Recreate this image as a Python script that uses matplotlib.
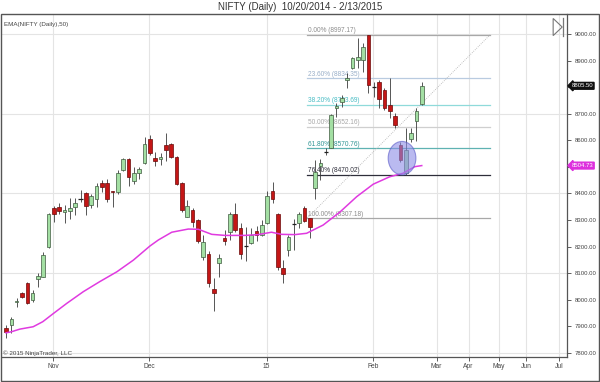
import matplotlib.pyplot as plt
import numpy as np
from matplotlib.patches import Ellipse, Rectangle, Polygon

plt.rcParams['font.family'] = ['Liberation Sans', 'DejaVu Sans']

# OHLC, one row per trading day, 10/20/2014 .. 2/13/2015
opens = [7892, 7904, 7990, 8025, 8062, 7998, 8077, 8085, 8198, 8345,
         8349, 8330, 8334, 8349, 8379, 8402, 8357, 8379, 8440, 8440,
         8408, 8406, 8489, 8530, 8447, 8477, 8515, 8605, 8534, 8530,
         8583, 8586, 8537, 8440, 8311, 8338, 8300, 8160, 8172, 8040,
         8138, 8232, 8254, 8322, 8269, 8203, 8213, 8258, 8243, 8288,
         8409, 8322, 8119, 8187, 8283, 8288, 8345, 8307, 8421, 8504,
         8555, 8571, 8722, 8745, 8828, 8873, 8903, 8903, 8997, 8801,
         8820, 8790, 8734, 8692, 8583, 8477, 8605, 8673, 8737]
highs = [7904, 7934, 8006, 8028, 8066, 8036, 8100, 8179, 8326, 8353,
         8364, 8357, 8383, 8383, 8413, 8406, 8398, 8440, 8451, 8455,
         8410, 8489, 8534, 8534, 8500, 8500, 8613, 8620, 8556, 8553,
         8628, 8590, 8541, 8443, 8375, 8345, 8303, 8243, 8183, 8081,
         8172, 8262, 8330, 8364, 8288, 8273, 8269, 8277, 8300, 8409,
         8443, 8326, 8149, 8243, 8303, 8330, 8353, 8307, 8526, 8530,
         8571, 8700, 8741, 8771, 8854, 8914, 8986, 8967, 8997, 8820,
         8828, 8798, 8835, 8703, 8594, 8647, 8647, 8722, 8820]
lows = [7855, 7874, 7972, 8006, 7983, 7990, 8047, 8085, 8194, 8292,
        8322, 8288, 8303, 8319, 8368, 8319, 8345, 8349, 8406, 8368,
        8349, 8398, 8485, 8428, 8436, 8455, 8511, 8545, 8504, 8508,
        8522, 8534, 8432, 8330, 8311, 8273, 8213, 8149, 8047, 7957,
        8085, 8205, 8224, 8254, 8153, 8145, 8209, 8220, 8239, 8285,
        8364, 8111, 8062, 8164, 8187, 8269, 8292, 8232, 8379, 8451,
        8545, 8571, 8688, 8726, 8798, 8869, 8873, 8858, 8779, 8764,
        8722, 8715, 8685, 8647, 8519, 8469, 8594, 8598, 8734]
closes = [7878, 7926, 7994, 8010, 7987, 8025, 8089, 8168, 8322, 8322,
          8334, 8338, 8345, 8364, 8381, 8353, 8391, 8428, 8425, 8379,
          8404, 8477, 8530, 8462, 8477, 8492, 8586, 8553, 8522, 8538,
          8564, 8537, 8436, 8338, 8353, 8292, 8220, 8217, 8062, 8025,
          8156, 8220, 8322, 8262, 8172, 8200, 8243, 8243, 8281, 8391,
          8379, 8123, 8096, 8236, 8286, 8322, 8296, 8273, 8481, 8515,
          8557, 8696, 8730, 8760, 8835, 8911, 8914, 8952, 8809, 8801,
          8756, 8722, 8711, 8658, 8526, 8564, 8628, 8711, 8805.5]

# EMA(50)
ema_idx = [0, 1, 2.6, 5.1, 6.9, 8.9, 11.4, 14.5, 17.6, 20.8, 23.9, 27.0,
           28.6, 31.1, 34.2, 36.1, 38.6, 41.1, 44.8, 47.3, 49.8, 51.7,
           54.2, 56.4, 59.5, 62.7, 65.8, 68.9, 72.0, 74.5, 76.7, 78]
ema_val = [7875, 7879, 7889, 7898, 7917, 7948, 7986, 8030, 8068, 8105,
           8149, 8202, 8225, 8254, 8266, 8265, 8246, 8242, 8242, 8245,
           8254, 8246, 8245, 8250, 8281, 8331, 8388, 8435, 8463, 8476,
           8501, 8505]

fib_pcts = ['0.00%', '23.60%', '38.20%', '50.00%', '61.80%', '76.40%', '100.00%']
fib_levels = [8997.17, 8834.35, 8733.69, 8652.16, 8570.76, 8470.02, 8307.18]
fib_colors = ['#a8a8a8', '#b9cbe0', '#8fdada', '#cfcfcf', '#5fb2b2', '#2e2e3a', '#a8a8a8']
fib_text = ['#8c8c8c', '#98aec8', '#48bcc4', '#a8a8a8', '#2f9494', '#2e2e3a', '#8c8c8c']

month_pos = [8.82, 26.9, 48.9, 68.8, 80.8, 86.8, 92.5, 97.6, 103.7]
month_lab = ['Nov', 'Dec', '15', 'Feb', 'Mar', 'Apr', 'May', 'Jun', 'Jul']
price_ticks = np.arange(7800, 9001, 100)

fig = plt.figure(figsize=(6, 3.82), dpi=100)
ax = fig.add_axes([2 / 600, 25 / 382, 565 / 600, 343 / 382])
ax.set_xlim(-0.75, 105.25)
ax.set_ylim(7784, 9076)

for p in [7800, 8100, 8400, 8700, 9000]:
    ax.axhline(p, color='#e4e4e4', lw=0.8, zorder=0)
for m in month_pos:
    ax.axvline(m, color='#e4e4e4', lw=0.8, zorder=0)

# fibonacci retracement
x0f, x1f = 56.5, 90.8
for pct, lev, c, tc in zip(fib_pcts, fib_levels, fib_colors, fib_text):
    ax.plot([x0f, x1f], [lev, lev], color=c, lw=0.9, zorder=1)
    ax.text(x0f + 0.2, lev + 2, '%s (%.2f)' % (pct, lev), color=tc, fontsize=4.7,
            va='bottom', ha='left', zorder=1)
ax.plot([x0f, x1f], [fib_levels[-1], fib_levels[0]], color='#b0b0b0', lw=0.6,
        ls=(0, (1, 1.5)), zorder=1)

# candles
for i, (o, h, l, c) in enumerate(zip(opens, highs, lows, closes)):
    ax.vlines(i, l, h, color='#3a3a3a', lw=0.6, zorder=2)
    up = c >= o
    if abs(c - o) < 4:
        ax.hlines((o + c) / 2, i - 0.4, i + 0.4, color='#202020', lw=0.9, zorder=3)
        continue
    ax.bar(i, abs(c - o), bottom=min(o, c), width=0.68,
           color='#a3dfa3' if up else '#c41616',
           edgecolor='#3f5a3f' if up else '#6a0a0a', lw=0.5, zorder=3)

ax.plot(ema_idx, ema_val, color='#e03ae0', lw=1.1, zorder=4)

ax.add_patch(Ellipse((74.3, 8533), 5.2, 126, fc='#8c8ce6', ec='#5a5ac8',
                     alpha=0.6, lw=0.8, zorder=5))

for s in ['top', 'left']:
    ax.spines[s].set_visible(False)
for s in ['bottom', 'right']:
    ax.spines[s].set_color('#555555')
    ax.spines[s].set_linewidth(0.9)

# labels under the price tags are hidden, as in the reference
ylabels = ['%.2f' % p for p in price_ticks]
ylabels[list(price_ticks).index(8800)] = ''
ylabels[list(price_ticks).index(8500)] = ''
ax.yaxis.tick_right()
ax.set_yticks(price_ticks)
ax.set_yticklabels(ylabels)
ax.set_xticks(month_pos)
ax.set_xticklabels(month_lab)
ax.tick_params(axis='both', labelsize=4.3, colors='#444444', length=3, width=0.6,
               pad=1.5, direction='out')
ax.tick_params(axis='x', labelsize=4.8)
ax.tick_params(axis='y', pad=2.5)

# price tags on the axis
ax.text(1.008, closes[-1], '8805.50', transform=ax.get_yaxis_transform(),
        fontsize=4.3, color='white', va='center', ha='left', clip_on=False,
        bbox=dict(boxstyle='larrow,pad=0.15', fc='#111111', ec='#111111'))
ax.text(1.008, ema_val[-1], '8504.73', transform=ax.get_yaxis_transform(),
        fontsize=4.3, color='white', va='center', ha='left', clip_on=False,
        bbox=dict(boxstyle='larrow,pad=0.15', fc='#dd2fdd', ec='#dd2fdd'))

ax.text(0.004, 0.978, 'EMA(NIFTY (Daily),50)', transform=ax.transAxes,
        fontsize=4.5, color='#444444', va='top')
ax.text(0.002, 0.003, '\u00a9 2015 NinjaTrader, LLC', transform=ax.transAxes,
        fontsize=4.5, color='#444444', va='bottom')

# "go to end" icon
ax.add_patch(Polygon([[0.9755, 0.937], [0.9755, 0.987], [0.9915, 0.962]],
                     closed=True, fill=False, ec='#777777', lw=0.8,
                     transform=ax.transAxes, clip_on=False))
ax.plot([0.9935, 0.9935], [0.937, 0.987], color='#777777', lw=0.9,
        transform=ax.transAxes, clip_on=False)

fig.text(0.5, 1 - 7 / 382, 'NIFTY (Daily)  10/20/2014 - 2/13/2015', ha='center',
         va='center', fontsize=7, color='#333333')
fig.patches.append(Rectangle((1 / 600, 1 / 382), 598 / 600, 367 / 382, fill=False,
                             ec='#555555', lw=1.0, transform=fig.transFigure))

fig.savefig('out.png', dpi=100)
